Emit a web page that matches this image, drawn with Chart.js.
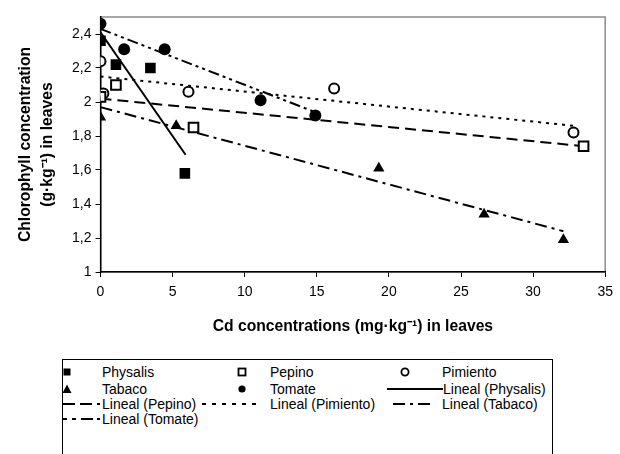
<!DOCTYPE html>
<html>
<head>
<meta charset="utf-8">
<script src="https://cdn.jsdelivr.net/npm/chart.js@4"></script>
<style>
  html, body { margin: 0; padding: 0; background: #fff; }
  body { width: 620px; height: 454px; position: relative; overflow: hidden; font-family: "Liberation Sans", Arial, sans-serif; }
  #wrap { position: absolute; left: 0; top: 0; width: 620px; height: 345px; }
  #legend { position: absolute; left: 62px; top: 359px; width: 491px; height: 120px; border: 1px solid #000; box-sizing: border-box; }
  .lg { position: absolute; font-size: 14px; line-height: 16px; color: #000; white-space: nowrap; }
  .sw { position: absolute; }
</style>
</head>
<body>
<div id="wrap"><canvas id="c"></canvas></div>
<div id="legend"></div>
<div id="items"></div>
<script>
// ---- Data ----
const physalisX = [0, 1.07, 3.46, 5.85];
const physalisY = [2.36, 2.22, 2.20, 1.58];
const pepinoX = [0, 1.07, 6.45, 33.5];
const pepinoY = [2.03, 2.10, 1.85, 1.74];
const pimientoX = [0, 0.2, 6.1, 16.2, 32.8];
const pimientoY = [2.24, 2.05, 2.06, 2.08, 1.82];
const tabacoX = [0, 5.25, 19.3, 26.6, 32.1];
const tabacoY = [1.91, 1.86, 1.61, 1.34, 1.19];
const tomateX = [0, 1.64, 4.45, 11.1, 14.9];
const tomateY = [2.46, 2.31, 2.31, 2.01, 1.92];

// Trend line endpoints
const linPhysalisX = [0, 5.9];
const linPhysalisY = [2.41, 1.69];
const linPepinoX = [0, 33.5];
const linPepinoY = [2.02, 1.74];
const linPimientoX = [0, 32.8];
const linPimientoY = [2.15, 1.86];
const linTabacoX = [0, 32.1];
const linTabacoY = [1.97, 1.24];
const linTomateX = [0, 14.9];
const linTomateY = [2.43, 1.94];

// Axis ticks
const xTicks = [0, 5, 10, 15, 20, 25, 30, 35];
const yTicks = [1, 1.2, 1.4, 1.6, 1.8, 2, 2.2, 2.4];

const pts = (xs, ys) => xs.map((x, i) => ({x: x, y: ys[i]}));

const lineDs = (label, xs, ys, dash) => ({
  label: label, data: pts(xs, ys), showLine: true, pointRadius: 0,
  borderColor: '#000', borderWidth: 2, borderDash: dash, fill: false, order: 2
});
const markDs = (label, xs, ys, style, r, fill, bw) => ({
  label: label, data: pts(xs, ys), showLine: false, pointStyle: style,
  pointRadius: r, pointHoverRadius: r, backgroundColor: fill, borderColor: '#000',
  pointBorderWidth: bw, order: 1
});

const frame = {
  id: 'frame',
  beforeDraw(chart) {
    const a = chart.chartArea, ctx = chart.ctx;
    ctx.save();
    ctx.strokeStyle = '#8c8c8c';
    ctx.lineWidth = 1.5;
    ctx.strokeRect(a.left, a.top, a.right - a.left, a.bottom - a.top);
    ctx.restore();
  }
};

const fmt = v => String(Math.round(v * 10) / 10).replace('.', ',');

new Chart(document.getElementById('c'), {
  type: 'scatter',
  data: {
    datasets: [
      lineDs('Lineal (Physalis)', linPhysalisX, linPhysalisY, []),
      lineDs('Lineal (Pepino)', linPepinoX, linPepinoY, [11, 6]),
      lineDs('Lineal (Pimiento)', linPimientoX, linPimientoY, [3, 5]),
      lineDs('Lineal (Tabaco)', linTabacoX, linTabacoY, [12, 5, 3, 5]),
      lineDs('Lineal (Tomate)', linTomateX, linTomateY, [11, 4, 3, 4, 3, 4]),
      markDs('Physalis', physalisX, physalisY, 'rect', 7.5, '#000', 0),
      markDs('Pepino', pepinoX, pepinoY, 'rect', 6.8, '#fff', 2),
      markDs('Pimiento', pimientoX, pimientoY, 'circle', 5, '#fff', 2),
      markDs('Tabaco', tabacoX, tabacoY, 'triangle', 6.5, '#000', 0),
      markDs('Tomate', tomateX, tomateY, 'circle', 6, '#000', 0)
    ]
  },
  options: {
    responsive: true,
    maintainAspectRatio: false,
    animation: false,
    layout: { padding: { top: 17, right: 9, left: 0, bottom: 0 } },
    plugins: { legend: { display: false }, tooltip: { enabled: false } },
    scales: {
      x: {
        type: 'linear', min: 0, max: 35,
        afterBuildTicks: s => { s.ticks = xTicks.map(v => ({value: v})); },
        afterFit: s => { s.height = 73; },
        ticks: { color: '#000', font: { family: 'Liberation Sans', size: 14 }, padding: 7, maxRotation: 0, autoSkip: false },
        grid: { drawOnChartArea: false, drawTicks: true, tickLength: 5, color: '#000', lineWidth: 1 },
        border: { color: '#000', width: 1.5 },
        title: {
          display: true, text: 'Cd concentrations (mg\u00B7kg\u207B\u00B9) in leaves',
          color: '#000', font: { family: 'Liberation Sans', size: 15.7, weight: 'bold' },
          padding: { top: 0, bottom: 9 }
        }
      },
      y: {
        type: 'linear', min: 1, max: 2.5,
        afterBuildTicks: s => { s.ticks = yTicks.map(v => ({value: v})); },
        afterFit: s => { s.width = 100.5; },
        ticks: { color: '#000', font: { family: 'Liberation Sans', size: 14 }, padding: 4, callback: v => fmt(v) },
        grid: { drawOnChartArea: false, drawTicks: true, tickLength: 5, color: '#000', lineWidth: 1 },
        border: { color: '#000', width: 1.5 },
        title: {
          display: true, text: ['Chlorophyll concentration', '(g\u00B7kg\u207B\u00B9) in leaves'],
          color: '#000', font: { family: 'Liberation Sans', size: 15.7, weight: 'bold', lineHeight: 1.45 },
          padding: { top: 14, bottom: 0 }
        }
      }
    }
  },
  plugins: [frame]
});

// ---- HTML legend ----
const legendItems = [
  { text: 'Physalis', tx: 102, row: 0, kind: 'mark', shape: 'rect', fill: '#000', mx: 67 },
  { text: 'Pepino', tx: 270, row: 0, kind: 'mark', shape: 'rect', fill: '#fff', mx: 242 },
  { text: 'Pimiento', tx: 442, row: 0, kind: 'mark', shape: 'circle', fill: '#fff', mx: 405 },
  { text: 'Tabaco', tx: 102, row: 1, kind: 'mark', shape: 'tri', fill: '#000', mx: 67 },
  { text: 'Tomate', tx: 270, row: 1, kind: 'mark', shape: 'circle', fill: '#000', mx: 242 },
  { text: 'Lineal (Physalis)', tx: 443, row: 1, kind: 'line', dash: '', l1: 387, l2: 443 },
  { text: 'Lineal (Pepino)', tx: 102, row: 2, kind: 'line', dash: '12 5', l1: 63, l2: 100 },
  { text: 'Lineal (Pimiento)', tx: 270, row: 2, kind: 'line', dash: '4 6', l1: 202, l2: 262 },
  { text: 'Lineal (Tabaco)', tx: 442, row: 2, kind: 'line', dash: '12 5 3 5', l1: 393, l2: 432 },
  { text: 'Lineal (Tomate)', tx: 102, row: 3, kind: 'line', dash: '4 5 4 5 12', l1: 63, l2: 100 }
];
const rowY = [372, 388.5, 404, 419];
const host = document.getElementById('items');
const NS = 'http://www.w3.org/2000/svg';
legendItems.forEach(it => {
  const cy = rowY[it.row];
  const t = document.createElement('div');
  t.className = 'lg';
  t.textContent = it.text;
  t.style.left = it.tx + 'px';
  t.style.top = (cy - 8) + 'px';
  host.appendChild(t);
  const svg = document.createElementNS(NS, 'svg');
  svg.setAttribute('class', 'sw');
  if (it.kind === 'mark') {
    svg.setAttribute('width', 12); svg.setAttribute('height', 12);
    svg.style.left = (it.mx - 6) + 'px'; svg.style.top = (cy - 6) + 'px';
    let el;
    if (it.shape === 'rect') {
      el = document.createElementNS(NS, 'rect');
      el.setAttribute('x', 2.5); el.setAttribute('y', 2.5); el.setAttribute('width', 7); el.setAttribute('height', 7);
    } else if (it.shape === 'circle') {
      el = document.createElementNS(NS, 'circle');
      el.setAttribute('cx', 6); el.setAttribute('cy', 6); el.setAttribute('r', 3.6);
    } else {
      el = document.createElementNS(NS, 'polygon');
      el.setAttribute('points', '6,1.5 10.5,10 1.5,10');
    }
    el.setAttribute('fill', it.fill);
    el.setAttribute('stroke', '#000');
    el.setAttribute('stroke-width', it.fill === '#fff' ? 1.8 : 0);
    svg.appendChild(el);
  } else {
    const w = it.l2 - it.l1;
    svg.setAttribute('width', w); svg.setAttribute('height', 6);
    svg.style.left = it.l1 + 'px'; svg.style.top = (cy - 3) + 'px';
    const ln = document.createElementNS(NS, 'line');
    ln.setAttribute('x1', 0); ln.setAttribute('x2', w); ln.setAttribute('y1', 3); ln.setAttribute('y2', 3);
    ln.setAttribute('stroke', '#000'); ln.setAttribute('stroke-width', 2);
    if (it.dash) ln.setAttribute('stroke-dasharray', it.dash);
    svg.appendChild(ln);
  }
  host.appendChild(svg);
});
</script>
</body>
</html>
